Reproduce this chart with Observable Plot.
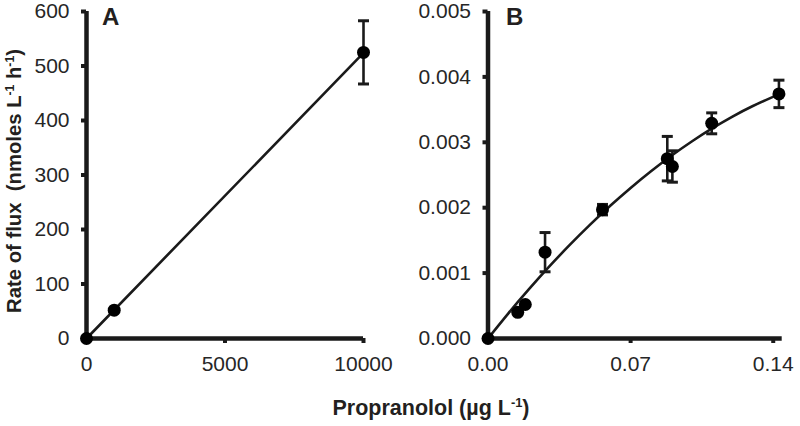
<!DOCTYPE html>
<html>
<head>
<meta charset="utf-8">
<script src="https://cdn.jsdelivr.net/npm/d3@7"></script>
<script src="https://cdn.jsdelivr.net/npm/@observablehq/plot@0.6"></script>
<style>
  body { margin: 0; background: #fff; }
  #wrap { position: relative; width: 800px; height: 426px; font-family: "Liberation Sans", Arial, sans-serif; color: #231f20; overflow: hidden; }
  .panel { position: absolute; top: 0; }
  .tag { position: absolute; font-weight: bold; font-size: 24px; line-height: 24px; top: 5px; }
  .ytitle { position: absolute; left: 14px; top: 181px; transform: translate(-50%, -50%) rotate(-90deg); white-space: pre; font-weight: bold; font-size: 20.3px; line-height: 22px; }
  .xtitle { position: absolute; left: 431px; top: 397px; transform: translateX(-50%); white-space: nowrap; font-weight: bold; font-size: 21.5px; line-height: 22px; }
  sup { font-size: 0.6em; line-height: 0; position: relative; top: -0.6em; vertical-align: baseline; }
</style>
</head>
<body>
<div id="wrap">
  <div class="panel" id="pa" style="left:0"></div>
  <div class="panel" id="pb" style="left:400px"></div>
  <div class="tag" style="left:102px">A</div>
  <div class="tag" style="left:506px">B</div>
  <div class="ytitle">Rate of flux  (nmoles L<sup>-1</sup> h<sup>-1</sup>)</div>
  <div class="xtitle">Propranolol (µg L<sup>-1</sup>)</div>
</div>
<script>
// ---- Panel A data ----
const aX = [0, 1000, 10000];
const aY = [0, 52, 525];
const aErr = [0, 0, 58];
const aFitX = [0, 10000];
const aFitY = [0, 524];
const aXTicks = [0, 5000, 10000];
const aYTicks = [0, 100, 200, 300, 400, 500, 600];

// ---- Panel B data ----
const bX = [0, 0.0146, 0.0183, 0.028, 0.0562, 0.088, 0.0905, 0.1098, 0.1428];
const bY = [0, 0.00040, 0.00052, 0.00132, 0.00197, 0.00275, 0.00263, 0.00329, 0.00374];
const bErr = [0, 0, 0, 0.00030, 0.00008, 0.00034, 0.00024, 0.00016, 0.00021];
const bFitX = [0, 0.01, 0.02, 0.03, 0.04, 0.05, 0.06, 0.07, 0.08, 0.09, 0.10, 0.11, 0.12, 0.13, 0.1435];
const bFitY = [0, 0.000385, 0.00075, 0.001098, 0.001427, 0.001737, 0.002029, 0.002302, 0.002557, 0.002794, 0.003012, 0.003212, 0.003393, 0.003555, 0.003745];
const bXTicks = [0, 0.07, 0.14];
const bYTicks = [0, 0.001, 0.002, 0.003, 0.004, 0.005];

const INK = "#1a1a1a";
const capSymbol = {
  draw(context) { context.moveTo(-5.5, 0); context.lineTo(5.5, 0); }
};

function panel({xs, ys, errs, fitX, fitY, xDomain, yDomain, xTicks, yTicks, xFmt, yFmt, marginLeft, marginRight, curve}) {
  const pts = xs.map((x, i) => ({x, y: ys[i], e: errs[i]}));
  const bars = pts.filter(d => d.e > 0);
  const fit = fitX.map((x, i) => ({x, y: fitY[i]}));
  return Plot.plot({
    width: 400,
    height: 385,
    marginLeft, marginRight,
    marginTop: 11,
    marginBottom: 47,
    style: {fontSize: "21px", fontFamily: "'Liberation Sans', Arial, sans-serif", color: "#262626", background: "transparent", overflow: "visible"},
    x: {domain: xDomain, label: null},
    y: {domain: yDomain, label: null},
    marks: [
      Plot.axisX({ticks: xTicks, tickFormat: xFmt, tickSize: 5, tickPadding: 13, strokeWidth: 4, stroke: INK, label: null}),
      Plot.axisY({ticks: yTicks, tickFormat: yFmt, tickSize: 5, tickPadding: 12, strokeWidth: 4, stroke: INK, label: null}),
      Plot.ruleY([yDomain[0]], {stroke: INK, strokeWidth: 4.5}),
      Plot.ruleX([xDomain[0]], {stroke: INK, strokeWidth: 4.5}),
      Plot.line(fit, {x: "x", y: "y", stroke: INK, strokeWidth: 2.6, curve}),
      Plot.ruleX(bars, {x: "x", y1: d => d.y - d.e, y2: d => d.y + d.e, stroke: INK, strokeWidth: 2.6}),
      Plot.dot(bars, {x: "x", y: d => d.y + d.e, symbol: capSymbol, stroke: INK, strokeWidth: 3, fill: "none"}),
      Plot.dot(bars, {x: "x", y: d => d.y - d.e, symbol: capSymbol, stroke: INK, strokeWidth: 3, fill: "none"}),
      Plot.dot(pts, {x: "x", y: "y", r: 6.5, fill: "#000", stroke: "none"})
    ]
  });
}

document.getElementById("pa").append(panel({
  xs: aX, ys: aY, errs: aErr, fitX: aFitX, fitY: aFitY,
  xDomain: [0, 10000], yDomain: [0, 600],
  xTicks: aXTicks, yTicks: aYTicks,
  xFmt: d3.format("d"), yFmt: d3.format("d"),
  marginLeft: 86, marginRight: 37, curve: "linear"
}));

document.getElementById("pb").append(panel({
  xs: bX, ys: bY, errs: bErr, fitX: bFitX, fitY: bFitY,
  xDomain: [0, 0.1444], yDomain: [0, 0.005],
  xTicks: bXTicks, yTicks: bYTicks,
  xFmt: d3.format(".2f"), yFmt: d3.format(".3f"),
  marginLeft: 87.5, marginRight: 18.3, curve: "natural"
}));
</script>
</body>
</html>
